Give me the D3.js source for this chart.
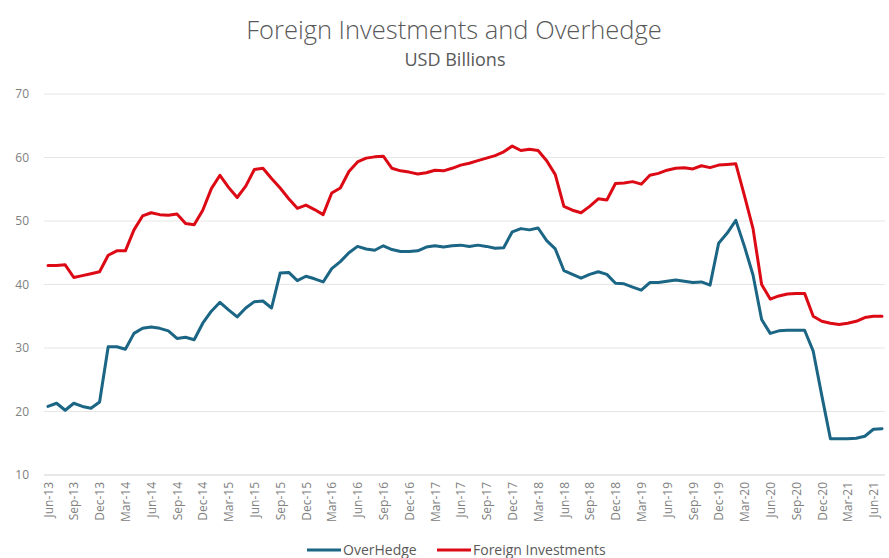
<!DOCTYPE html>
<meta charset="utf-8">
<script src="https://d3js.org/d3.v7.min.js"></script>
<style>
  body { margin: 0; background: #fff; }
  text { font-family: "Open Sans", "Noto Sans", sans-serif; }
</style>
<div id="chart"></div>
<script>

// monthly categories Jun-13 .. Jul-21
const months = d3.timeMonth.range(new Date(2013, 5, 1), new Date(2021, 7, 1));

// USD billions
const overHedge = [
  20.8, 21.3, 20.2, 21.3, 20.8, 20.5, 21.5, 30.2, 30.2, 29.8, 32.3, 33.1,
  33.3, 33.1, 32.7, 31.5, 31.7, 31.3, 33.9, 35.8, 37.2, 36.0, 34.9, 36.3,
  37.3, 37.4, 36.3, 41.8, 41.9, 40.6, 41.3, 40.9, 40.4, 42.5, 43.6, 45.0,
  46.0, 45.6, 45.4, 46.1, 45.5, 45.2, 45.2, 45.3, 45.9, 46.1, 45.9, 46.1,
  46.2, 46.0, 46.2, 46.0, 45.7, 45.8, 48.3, 48.8, 48.6, 48.9, 46.9, 45.6,
  42.2, 41.6, 41.0, 41.6, 42.0, 41.6, 40.2, 40.1, 39.6, 39.1, 40.3, 40.3,
  40.5, 40.7, 40.5, 40.3, 40.4, 39.9, 46.5, 48.1, 50.1, 46.0, 41.5, 34.5,
  32.3, 32.7, 32.8, 32.8, 32.8, 29.5, 22.5, 15.7, 15.7, 15.7, 15.8, 16.1,
  17.2, 17.3
];

const foreignInv = [
  43.0, 43.0, 43.1, 41.1, 41.4, 41.7, 42.0, 44.6, 45.3, 45.3, 48.6, 50.8,
  51.3, 51.0, 50.9, 51.1, 49.6, 49.4, 51.7, 55.1, 57.2, 55.3, 53.7, 55.5,
  58.1, 58.3, 56.7, 55.2, 53.5, 52.0, 52.5, 51.8, 51.0, 54.4, 55.2, 57.8,
  59.3, 59.9, 60.1, 60.2, 58.3, 57.9, 57.7, 57.4, 57.6, 58.0, 57.9, 58.3,
  58.8, 59.1, 59.5, 59.9, 60.3, 60.9, 61.8, 61.1, 61.3, 61.1, 59.5, 57.3,
  52.3, 51.7, 51.3, 52.3, 53.5, 53.3, 55.9, 56.0, 56.2, 55.8, 57.2, 57.5,
  58.0, 58.3, 58.4, 58.2, 58.7, 58.4, 58.8, 58.9, 59.0, 54.0, 48.8, 40.0,
  37.7, 38.2, 38.5, 38.6, 38.6, 35.0, 34.2, 33.9, 33.7, 33.9, 34.2, 34.8,
  35.0, 35.0
];

const yTicks = [10, 20, 30, 40, 50, 60, 70];

const series = [
  {name: "OverHedge", values: overHedge, color: "#1b6585"},
  {name: "Foreign Investments", values: foreignInv, color: "#dc0a14"}
];

const width = 889, height = 558;
const plot = {left: 44, right: 885, top: 94, bottom: 475};

const svg = d3.select("#chart")
  .append("svg")
    .attr("width", width)
    .attr("height", height);

// scales
const x = d3.scalePoint()
  .domain(months)
  .range([48, 882]);

const y = d3.scaleLinear()
  .domain([10, 70])
  .range([plot.bottom, plot.top]);

// title
svg.append("text")
  .attr("x", 454).attr("y", 39)
  .attr("text-anchor", "middle")
  .style("font-size", "25.5px")
  .style("font-weight", 300)
  .style("fill", "#595959")
  .text("Foreign Investments and Overhedge");

svg.append("text")
  .attr("x", 455).attr("y", 66)
  .attr("text-anchor", "middle")
  .style("font-size", "18px")
  .style("fill", "#595959")
  .text("USD Billions");

// gridlines
svg.append("g")
  .selectAll("line")
  .data(yTicks)
  .join("line")
    .attr("x1", plot.left).attr("x2", plot.right)
    .attr("y1", d => y(d)).attr("y2", d => y(d))
    .attr("stroke", d => d === 10 ? "#d0d0d0" : "#e6e6e6")
    .attr("stroke-width", 1);

// y axis labels
const yAxis = svg.append("g")
  .attr("transform", `translate(${plot.left}, 0)`)
  .call(d3.axisLeft(y).tickValues(yTicks).tickSize(0).tickPadding(15));
yAxis.select(".domain").remove();
yAxis.selectAll("text")
  .style("font-size", "12px")
  .style("fill", "#808080");

// x axis labels, every third month
const fmt = d3.timeFormat("%b-%y");
const xAxis = svg.append("g")
  .attr("transform", `translate(0, ${plot.bottom})`)
  .call(d3.axisBottom(x)
    .tickValues(months.filter((d, i) => i % 3 === 0))
    .tickFormat(fmt)
    .tickSize(0));
xAxis.select(".domain").remove();
xAxis.selectAll("text")
  .attr("transform", "rotate(-90)")
  .attr("text-anchor", "end")
  .attr("x", -7)
  .attr("y", 0)
  .attr("dy", "0.35em")
  .style("font-size", "12px")
  .style("fill", "#808080");

// lines
const line = d3.line()
  .x((d, i) => x(months[i]))
  .y(d => y(d));

svg.append("g")
  .selectAll("path")
  .data(series)
  .join("path")
    .attr("d", d => line(d.values))
    .attr("fill", "none")
    .attr("stroke", d => d.color)
    .attr("stroke-width", 3)
    .attr("stroke-linejoin", "round")
    .attr("stroke-linecap", "round");

// legend
const legendPos = [307, 437];
const legend = svg.append("g")
  .selectAll("g")
  .data(series)
  .join("g")
    .attr("transform", (d, i) => `translate(${legendPos[i]}, 550)`);

legend.append("line")
  .attr("x1", 0).attr("x2", 34)
  .attr("stroke", d => d.color)
  .attr("stroke-width", 3);

legend.append("text")
  .attr("x", 36)
  .attr("dy", "0.35em")
  .style("font-size", "14px")
  .style("fill", "#595959")
  .text(d => d.name);

</script>
